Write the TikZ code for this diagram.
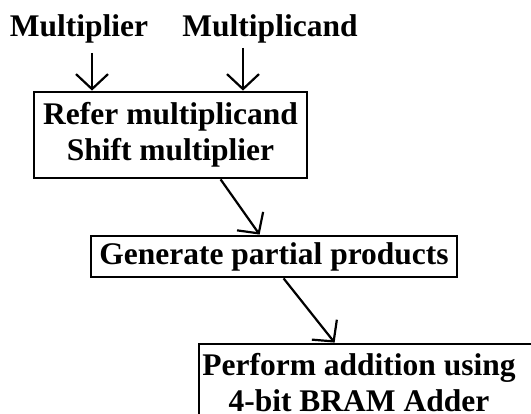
\documentclass[tikz,border=0pt]{standalone}
\usepackage{fontspec}
\setmainfont{Liberation Serif}
\usetikzlibrary{arrows.meta,calc}
\begin{document}
\begin{tikzpicture}[x=1pt,y=-1pt,
  txt/.style={font=\fontsize{31.5}{36.5}\selectfont\bfseries, inner sep=0pt, align=center},
  boxstyle/.style={draw, line width=2.8pt, inner sep=0pt},
  arr/.style={line width=2.2pt, -{Straight Barb[length=15pt,width=32pt,line width=2.2pt]}}
]
\useasboundingbox (0,0) rectangle (531,414);
\clip (0,0) rectangle (531,414);
\fill[white] (0,0) rectangle (531,414);

\node[txt, anchor=base] (m1) at (79,37) {Multiplier};
\node[txt, anchor=base] (m2) at (270,37) {Multiplicand};

\node[boxstyle, txt, minimum width=273pt, minimum height=86pt] (b1) at (170.5,135)
  {Refer multiplicand\\Shift multiplier};
\node[boxstyle, txt, minimum width=366pt, minimum height=41pt] (b2) at (274,256.5)
  {Generate partial products};
\node[boxstyle, minimum width=346pt, minimum height=96pt] (b3) at (372,392) {};
\node[txt] (b3t) at (359,382.5) {Perform addition using\\4-bit BRAM Adder};

\coordinate (a1) at (92,53);
\coordinate (a2) at (243,48);
\draw[arr] (a1) -- (a1 |- b1.north);
\draw[arr] (a2) -- (a2 |- b1.north);
\draw[arr] ([xshift=188pt]b1.south west) -- ([xshift=170pt]b2.north west);
\draw[arr] ([xshift=194pt]b2.south west) -- ([xshift=137pt]b3.north west);
\end{tikzpicture}
\end{document}
